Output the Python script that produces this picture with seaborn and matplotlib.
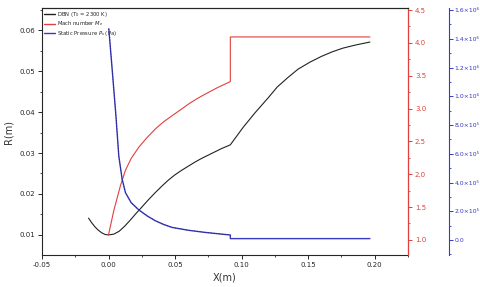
import numpy as np
import pandas as pd
import matplotlib
matplotlib.use("Agg")
import matplotlib.pyplot as plt
from matplotlib.ticker import AutoMinorLocator, FixedLocator
from matplotlib.lines import Line2D
import seaborn as sns

# donnees
x_r = [-0.015, -0.0125, -0.01, -0.0075, -0.005, -0.0025, 0.0, 0.004, 0.008, 0.012, 0.016,
       0.02, 0.025, 0.03, 0.035, 0.04, 0.045, 0.05, 0.055, 0.06, 0.065, 0.07, 0.075, 0.08,
       0.085, 0.0915, 0.1012, 0.11, 0.12, 0.1267, 0.135, 0.1425, 0.1514, 0.16, 0.168,
       0.176, 0.186, 0.1964]
r_vals = [0.0141, 0.0129, 0.0119, 0.0111, 0.0105, 0.0101, 0.0100, 0.0102, 0.0109, 0.0121,
          0.0135, 0.0150, 0.0168, 0.0186, 0.0203, 0.0219, 0.0234, 0.0247, 0.0258, 0.0268,
          0.0278, 0.0287, 0.0295, 0.0303, 0.0311, 0.0320, 0.0363, 0.0398, 0.0435, 0.0461,
          0.0485, 0.0505, 0.0522, 0.0536, 0.0547, 0.0556, 0.0564, 0.0571]

x_m = [0.0, 0.004, 0.009, 0.0127, 0.017, 0.0227, 0.029, 0.0352, 0.0415, 0.0477, 0.054,
       0.0602, 0.0665, 0.0727, 0.082, 0.0915, 0.0915, 0.1964]
mach_vals = [1.08, 1.45, 1.83, 2.06, 2.24, 2.41, 2.56, 2.69, 2.80, 2.89, 2.98, 3.07, 3.15,
             3.22, 3.32, 3.41, 4.09, 4.09]

x_p = [0.0002, 0.0027, 0.0055, 0.0077, 0.0102, 0.0127, 0.017, 0.0227, 0.029, 0.0352,
       0.0415, 0.0477, 0.06, 0.0727, 0.0915, 0.0915, 0.1964]
p_vals = [1.47e6, 1.19e6, 8.7e5, 5.85e5, 4.24e5, 3.3e5, 2.6e5, 2.1e5, 1.68e5, 1.34e5,
          1.08e5, 0.88e5, 0.68e5, 0.53e5, 0.35e5, 0.1e5, 0.1e5]

lbl_r = r"DBN ($T_0$ = 2300 K)"
lbl_m = r"Mach number $M_e$"
lbl_p = r"Static Pressure $P_s$ (Pa)"

blue_ticks = [0, 2e5, 4e5, 6e5, 8e5, 1.0e6, 1.2e6, 1.4e6, 1.6e6]
blue_labels = ["0.0", "2.0×10⁵", "4.0×10⁵", "6.0×10⁵", "8.0×10⁵",
               "1.0×10⁶", "1.2×10⁶", "1.4×10⁶", "1.6×10⁶"]

red_c = "#e0403c"
blue_c = "#3838c0"

sns.set_style("ticks")
plt.rcParams["font.family"] = ["DejaVu Sans"]
plt.rcParams["axes.linewidth"] = 0.8

fig = plt.figure(figsize=(4.8, 2.87), dpi=100)
ax = fig.add_axes([0.0875, 0.1115, 0.7625, 0.8605])
ax2 = ax.twinx()
ax3 = ax.twinx()
ax3.spines["right"].set_position(("axes", 1.112))

df_r = pd.DataFrame({"x": x_r, "y": r_vals})
df_m = pd.DataFrame({"x": x_m, "y": mach_vals})
df_p = pd.DataFrame({"x": x_p, "y": p_vals})

sns.lineplot(data=df_r, x="x", y="y", ax=ax, color="#222222", lw=0.8, sort=False,
             estimator=None, legend=False)
sns.lineplot(data=df_m, x="x", y="y", ax=ax2, color=red_c, lw=0.8, sort=False,
             estimator=None, legend=False)
sns.lineplot(data=df_p, x="x", y="y", ax=ax3, color=blue_c, lw=1.0, sort=False,
             estimator=None, legend=False)
ax3.plot(x_p[:-2], p_vals[:-2], color="#1a1a50", lw=0.4, ls=(0, (2, 3)))

ax.set_xlim(-0.05, 0.225)
ax.set_ylim(0.0051, 0.0654)
ax2.set_ylim(0.77, 4.53)
ax3.set_ylim(-1.04e5, 1.614e6)

ax.set_xticks([-0.05, 0.0, 0.05, 0.10, 0.15, 0.20])
ax.set_xticklabels(["-0.05", "0.00", "0.05", "0.10", "0.15", "0.20"])
ax.xaxis.set_minor_locator(AutoMinorLocator(2))
ax.set_yticks([0.01, 0.02, 0.03, 0.04, 0.05, 0.06])
ax.set_yticklabels(["0.01", "0.02", "0.03", "0.04", "0.05", "0.06"])
ax.yaxis.set_minor_locator(AutoMinorLocator(2))

ax2.set_yticks([1.0, 1.5, 2.0, 2.5, 3.0, 3.5, 4.0, 4.5])
ax2.set_yticklabels(["1.0", "1.5", "2.0", "2.5", "3.0", "3.5", "4.0", "4.5"])
ax2.yaxis.set_minor_locator(AutoMinorLocator(2))
ax3.yaxis.set_major_locator(FixedLocator(blue_ticks))
ax3.set_yticklabels(blue_labels)
ax3.yaxis.set_minor_locator(AutoMinorLocator(2))

for a in (ax, ax2, ax3):
    a.tick_params(which="major", length=3, width=0.7, labelsize=5, direction="out", pad=2)
    a.tick_params(which="minor", length=1.6, width=0.6)
    a.set_xlabel("")
    a.set_ylabel("")
ax3.tick_params(axis="y", which="major", labelsize=4.4, pad=1.5, length=2.6)

ax2.spines["right"].set_color(red_c)
ax2.tick_params(axis="y", which="both", colors=red_c)
ax3.spines["right"].set_color(blue_c)
ax3.tick_params(axis="y", which="both", colors=blue_c)
for s in ("top", "left", "bottom"):
    ax3.spines[s].set_visible(False)
for s in ("left", "bottom"):
    ax2.spines[s].set_visible(False)

ax.set_xlabel("X(m)", fontsize=7, color="#333333", labelpad=3)
ax.set_ylabel("R(m)", fontsize=7, color="#333333", labelpad=4)

handles = [Line2D([], [], color="#222222", lw=1.0),
           Line2D([], [], color=red_c, lw=1.0),
           Line2D([], [], color=blue_c, lw=1.0)]
ax.legend(handles, [lbl_r, lbl_m, lbl_p], loc="upper left", fontsize=3.8, frameon=False,
          handlelength=2.2, handletextpad=0.4, labelspacing=0.15, borderaxespad=0.2,
          borderpad=0.1)

fig.savefig("out.png", dpi=100)
